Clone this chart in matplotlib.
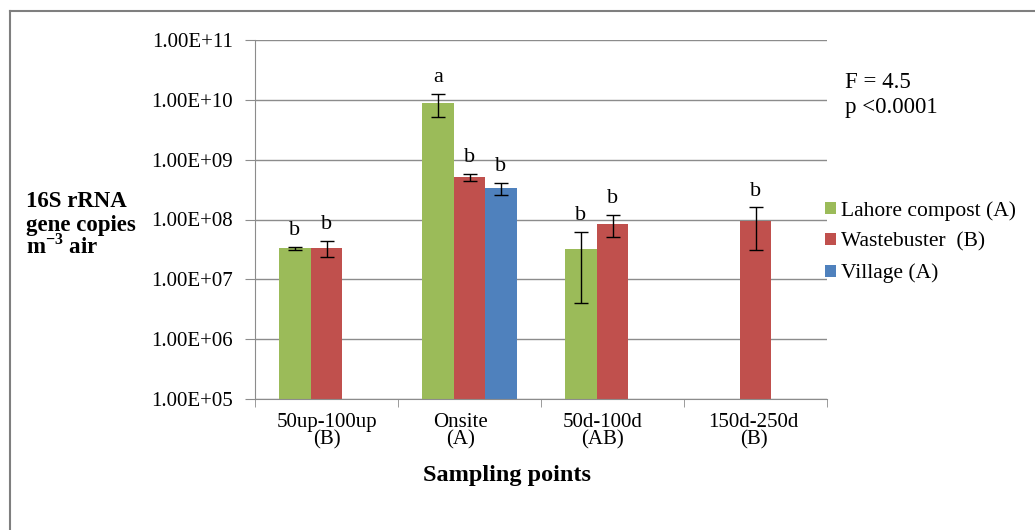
import matplotlib
matplotlib.use("Agg")
import matplotlib.pyplot as plt
from matplotlib.ticker import FixedLocator, FuncFormatter, NullLocator
from matplotlib.transforms import ScaledTranslation
import numpy as np

plt.rcParams['font.family'] = ['Liberation Serif', 'DejaVu Serif']
plt.rcParams['mathtext.fontset'] = 'custom'
plt.rcParams['mathtext.rm'] = 'Liberation Serif'
plt.rcParams['mathtext.bf'] = 'Liberation Serif:bold'

# data
categories = ["50up-100up\n(B)", "Onsite\n(A)", "50d-100d\n(AB)", "150d-250d\n(B)"]
series = ["Lahore compost (A)", "Wastebuster  (B)", "Village (A)"]
lahore = [3.28e7, 8.9e9, 3.25e7, np.nan]
wastebuster = [3.37e7, 5.1e8, 8.4e7, 9.5e7]
village = [np.nan, 3.34e8, np.nan, np.nan]
lahore_sd = [1.5e6, 3.7e9, 2.85e7, np.nan]
wastebuster_sd = [1.0e7, 7.4e7, 3.3e7, 6.4e7]
village_sd = [np.nan, 7.4e7, np.nan, np.nan]
lahore_grp = ["b", "a", "b", ""]
wastebuster_grp = ["b", "b", "b", "b"]
village_grp = ["", "b", "", ""]

colors = ["#9BBB59", "#C0504D", "#4F81BD"]
grid_col = "#8C8C8C"
fs = 15

fig = plt.figure(figsize=(10.35, 5.3), dpi=100)
ax = fig.add_axes([255/1035, 1-399/530, (827-255)/1035, (399-40)/530])

values = [lahore, wastebuster, village]
sds = [lahore_sd, wastebuster_sd, village_sd]
groups = [lahore_grp, wastebuster_grp, village_grp]
width = 0.22
x = np.arange(len(categories))
for k in range(3):
    xs = x + (k - 1) * width
    vals = np.array(values[k], dtype=float)
    ax.bar(xs, vals, width, color=colors[k], label=series[k], zorder=2)
    ax.errorbar(xs, vals, yerr=sds[k], fmt='none', ecolor='black',
                elinewidth=1, capsize=5, capthick=1, zorder=3)
    for xi, v, e, g in zip(xs, vals, sds[k], groups[k]):
        if g and not np.isnan(v):
            ax.annotate(g, (xi, v + e), xytext=(0, 5), textcoords='offset points',
                        ha='center', va='bottom', fontsize=fs + 1)

ax.set_yscale('log')
ax.set_ylim(1e5, 1e11)
ax.set_xlim(-0.5, 3.5)
ax.yaxis.set_major_locator(FixedLocator([10.0**p for p in range(5, 12)]))
ax.yaxis.set_minor_locator(NullLocator())
ax.yaxis.set_major_formatter(FuncFormatter(lambda v, pos: f"{v:.2E}"))
ax.grid(axis='y', color=grid_col, linewidth=1, zorder=0)
ax.set_axisbelow(True)

ax.set_xticks(x)
ax.set_xticklabels(categories, fontsize=fs, linespacing=0.87)
ax.set_xticks(np.arange(-0.5, 4.0, 1.0), minor=True)
ax.tick_params(axis='x', which='major', length=0, pad=10)
ax.tick_params(axis='x', which='minor', length=6, color=grid_col, direction='out')
ax.tick_params(axis='y', length=7, color=grid_col, pad=9, labelsize=fs)
# the category labels in the original sit a little left of the tick centres
label_shift = [0, -9, -10, -2]
for lab, dx in zip(ax.get_xticklabels(), label_shift):
    lab.set_transform(lab.get_transform() + ScaledTranslation(dx / 100, 0, fig.dpi_scale_trans))

for s in ['top', 'right']:
    ax.spines[s].set_visible(False)
for s in ['left', 'bottom']:
    ax.spines[s].set_color(grid_col)

fig.text(507/1035, 1-475/530, "Sampling points", ha='center', va='center',
         fontsize=17.5, fontweight='bold')

ylab = ["16S rRNA", "gene copies", r"m$^{\mathbf{-3}}$ air"]
for i, t in enumerate(ylab):
    fig.text(26/1035, 1-(207 + i*23.5)/530, t, ha='left', va='baseline',
             fontsize=16.5, fontweight='bold')

fig.text(845/1035, 1-82/530, "F = 4.5", ha='left', va='center', fontsize=16.5)
fig.text(845/1035, 1-108/530, "p <0.0001", ha='left', va='center', fontsize=16.5)

ax.legend(loc='upper left', bbox_to_anchor=(825/1035, 1-201/530),
          bbox_transform=fig.transFigure, frameon=False, fontsize=15.5,
          handlelength=0.5, handleheight=0.45, handletextpad=0.25,
          labelspacing=0.55, borderaxespad=0, borderpad=0)

# outer frame of the chart area (extends past the image on right and bottom)
fig.add_artist(plt.Line2D([10/1035, 10/1035], [0, 1-11/530], color='#7F7F7F',
                          linewidth=1.5, transform=fig.transFigure))
fig.add_artist(plt.Line2D([10/1035, 1], [1-11/530, 1-11/530], color='#7F7F7F',
                          linewidth=1.5, transform=fig.transFigure))

fig.savefig("out.png", dpi=100)
